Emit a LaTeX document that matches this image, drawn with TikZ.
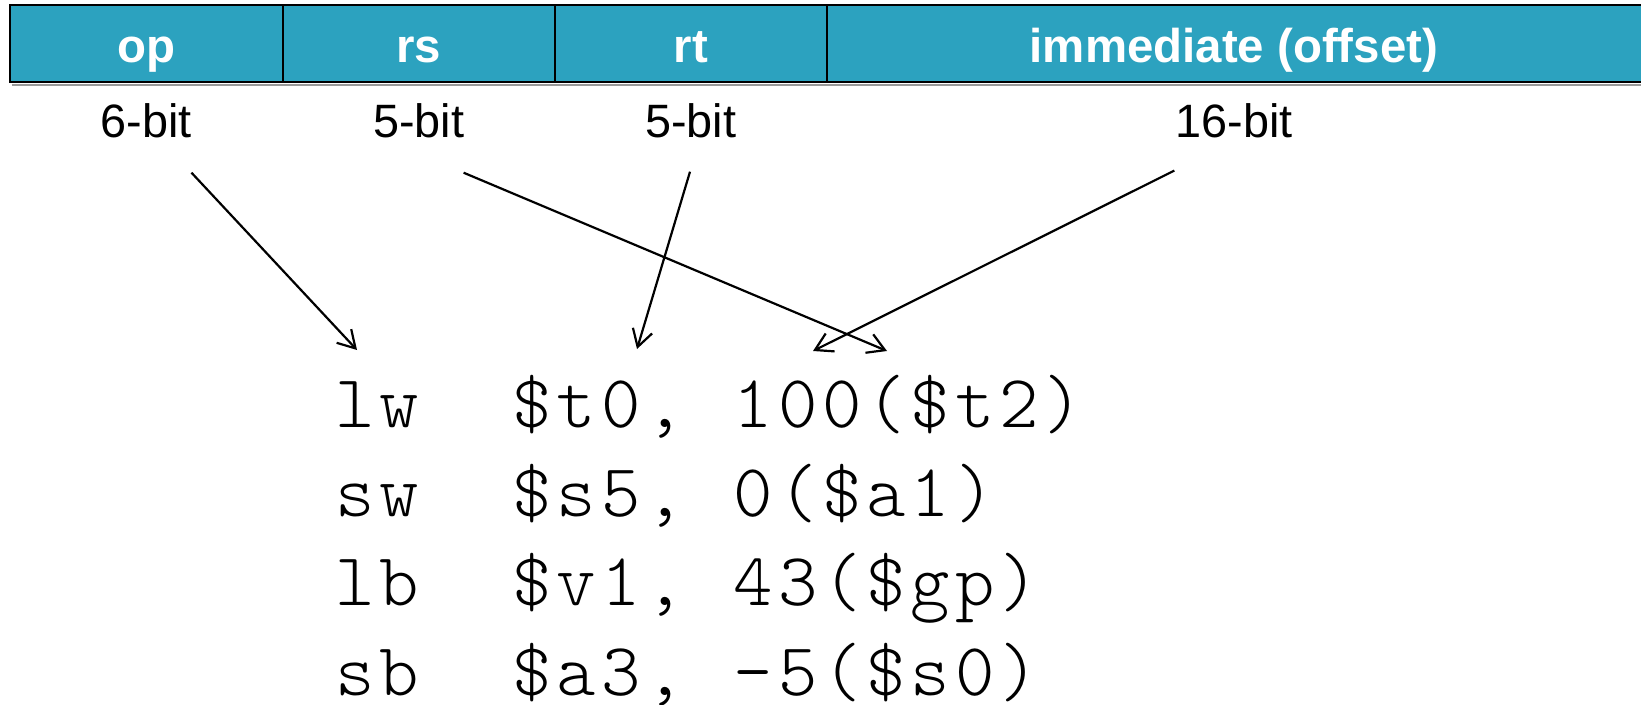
\documentclass[tikz,border=0pt]{standalone}
\usepackage{fontspec}
\setmainfont{Liberation Sans}
\newfontfamily\codefont{lmmonolt10-regular.otf}
\usetikzlibrary{arrows.meta}
\definecolor{fieldteal}{RGB}{44,162,191}
\makeatletter
% set a line of code on a fixed character pitch
\newcommand\pitchline[1]{\@tfor\pl@ch:=#1\do{\makebox[22.125pt][c]{\pl@ch}}}
\makeatother
\begin{document}
\begin{tikzpicture}[x=0.5pt,y=-0.5pt,
  cell/.style={fill=fieldteal, inner sep=0pt, minimum width=136.15pt,
    text height=28.6pt, text depth=9.5pt, anchor=base, text=white,
    font=\fontsize{23.7}{28}\selectfont\bfseries},
  bits/.style={anchor=base, inner sep=0pt, font=\fontsize{23.4}{28}\selectfont},
  code/.style={anchor=base west, inner sep=0pt,
    font=\codefont\fontsize{37.5}{45}\selectfont},
  border/.style={line width=1pt},
  ptr/.style={line width=1.1pt, -{Straight Barb[length=8.5pt,width=10pt]}}]
\useasboundingbox (0,0) rectangle (1641,705);
\clip (0,0) rectangle (1641,705);

% instruction format fields
\node[cell] (op) at (146.45,62.7) {op};
\node[cell] (rs) at (418.65,62.7) {rs};
\node[cell] (rt) at (690.75,62.7) {rt};
\node[cell, minimum width=407.1pt] (imm) at (1233.9,62.7) {immediate (offset)};

\draw[black!40, line width=1pt] ([shift={(2,2.6)}]op.south west) -- ([shift={(2,2.6)}]imm.south east);
\draw[border] (imm.north east) -- (op.north west) -- (op.south west) -- (imm.south east);
\draw[border] (op.north east) -- (op.south east)
              (rs.north east) -- (rs.south east)
              (rt.north east) -- (rt.south east);

% field widths
\node[bits] (opb) at (146.45,138) {6-bit};
\node[bits] (rsb) at (418.65,138) {5-bit};
\node[bits] (rtb) at (690.75,138) {5-bit};
\node[bits] (immb) at (1233.9,138) {16-bit};

% example instructions
\node[code] (c1) at (332.9,427) {\pitchline{lw~~\$t0,~100(\$t2)}};
\node[code] (c2) at (332.9,516.3) {\pitchline{sw~~\$s5,~0(\$a1)}};
\node[code] (c3) at (332.9,605.6) {\pitchline{lb~~\$v1,~43(\$gp)}};
\node[code] (c4) at (332.9,695) {\pitchline{sb~~\$a3,~-5(\$s0)}};

% arrows from fields to operands
\coordinate (opS) at (191.5,172.7);
\coordinate (rsS) at (463.6,172.7);
\coordinate (rtS) at (690,171.7);
\coordinate (immS) at (1174.3,170.6);
\coordinate (opT) at (357,350);
\coordinate (rsT) at (887,351);
\coordinate (rtT) at (637,349);
\coordinate (immT) at (813,351);
\draw[ptr] (opS) -- (opT);
\draw[ptr] (rsS) -- (rsT);
\draw[ptr] (rtS) -- (rtT);
\draw[ptr] (immS) -- (immT);
\end{tikzpicture}
\end{document}
